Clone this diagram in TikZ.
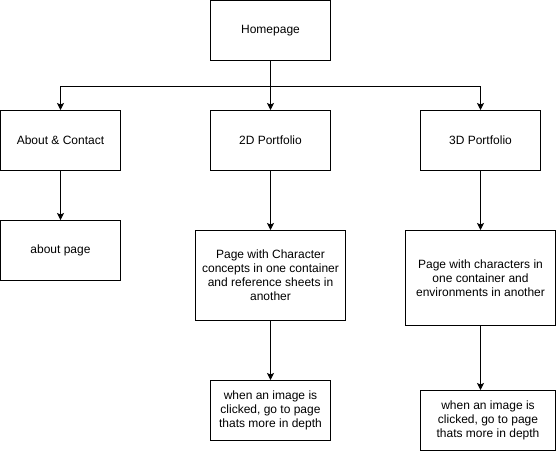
\documentclass[tikz,border=0pt]{standalone}
\usepackage{fontspec}
\setmainfont{Liberation Sans}
\usetikzlibrary{arrows.meta,calc}
\begin{document}
\begin{tikzpicture}[x=1pt,y=-1pt,
  box/.style={draw=black,line width=1pt,fill=white,rectangle,align=center,
    inner sep=0pt,font=\fontsize{12}{14}\selectfont},
  arr/.style={draw=black,line width=1pt,-{Stealth[length=7pt,width=7pt,inset=1.5pt]}}]
\useasboundingbox (0,0) rectangle (556,451);
\node[box,minimum width=120pt,minimum height=60pt] (home) at (270.5,30.5) {Homepage};
\node[box,minimum width=120pt,minimum height=60pt] (about) at (60.5,140.5) {About \& Contact};
\node[box,minimum width=120pt,minimum height=60pt] (p2d) at (270.5,140.5) {2D Portfolio};
\node[box,minimum width=120pt,minimum height=60pt] (p3d) at (480.5,140.5) {3D Portfolio};
\node[box,minimum width=120pt,minimum height=60pt] (aboutpage) at (60.5,250.5) {about page};
\node[box,minimum width=150pt,minimum height=90pt] (page2d) at (270.5,275.5) {Page with Character\\concepts in one container\\and reference sheets in\\another};
\node[box,minimum width=150pt,minimum height=95pt] (page3d) at (480.5,278) {Page with characters in\\one container and\\environments in another};
\node[box,minimum width=120pt,minimum height=60pt] (click2d) at (270.5,410.5) {when an image is\\clicked, go to page\\thats more in depth};
\node[box,minimum width=135pt,minimum height=60pt] (click3d) at (488,420.5) {when an image is\\clicked, go to page\\thats more in depth};
\coordinate (junc) at ($(home.south)+(0,25)$);
\draw[arr] (home.south) -- (p2d.north);
\draw[arr] (junc) -| (about.north);
\draw[arr] (junc) -| (p3d.north);
\draw[arr] (about.south) -- (aboutpage.north);
\draw[arr] (p2d.south) -- (page2d.north);
\draw[arr] (p3d.south) -- (page3d.north);
\draw[arr] (page2d.south) -- (click2d.north);
\draw[arr] (page3d.south) -- (page3d.south |- click3d.north);
\end{tikzpicture}
\end{document}
